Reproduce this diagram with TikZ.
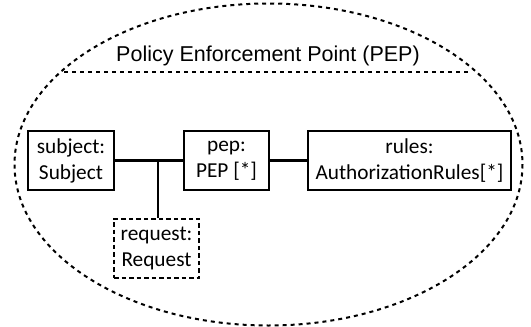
\documentclass[tikz,border=0pt]{standalone}
\usepackage{fontspec}
\setmainfont{Carlito}
\newfontfamily\titlefont{Liberation Sans}
\usepackage{tikz}
\usetikzlibrary{calc}

\begin{document}
\begin{tikzpicture}[x=1pt, y=-1pt,
    box/.style={draw, line width=2.4pt, align=center, inner sep=0pt,
        minimum height=59pt, font=\fontsize{21.3}{26}\selectfont},
    reqbox/.style={box, dash pattern=on 4.5pt off 3pt, line width=2pt},
    link/.style={line width=2.4pt},
    border/.style={line width=2pt, dash pattern=on 4pt off 4pt}]
        \useasboundingbox (0,0) rectangle (531,327);
        % boundary of the enforcement point
        \draw[border] (268.5,164.5) ellipse [x radius=254, y radius=161];
        \node[font=\titlefont\fontsize{21.5}{25}\selectfont] (title) at (268,56) {Policy Enforcement Point (PEP)};
        \coordinate (sepl) at (64,72);
        \coordinate (sepr) at (471,72);
        \draw[border] (sepl) -- (sepr);
        % parts
        \node[box, minimum width=86pt] (subject) at (71,160.5) {subject:\\Subject};
        \node[box, minimum width=85pt] (pep) at (226.5,160.5) {pep:\\PEP [*]};
        \node[box, minimum width=203pt] (rules) at (409.5,160.5) {rules:\\AuthorizationRules[*]};
        \node[reqbox, minimum width=85pt] (request) at (156.5,248) {request:\\Request};
        % connectors
        \coordinate (joint) at (158,160.5);
        \draw[link] (subject) -- (pep);
        \draw[link] (joint) -- (joint |- request.north);
        \draw[link] (pep) -- (rules);
    \end{tikzpicture}
\end{document}
